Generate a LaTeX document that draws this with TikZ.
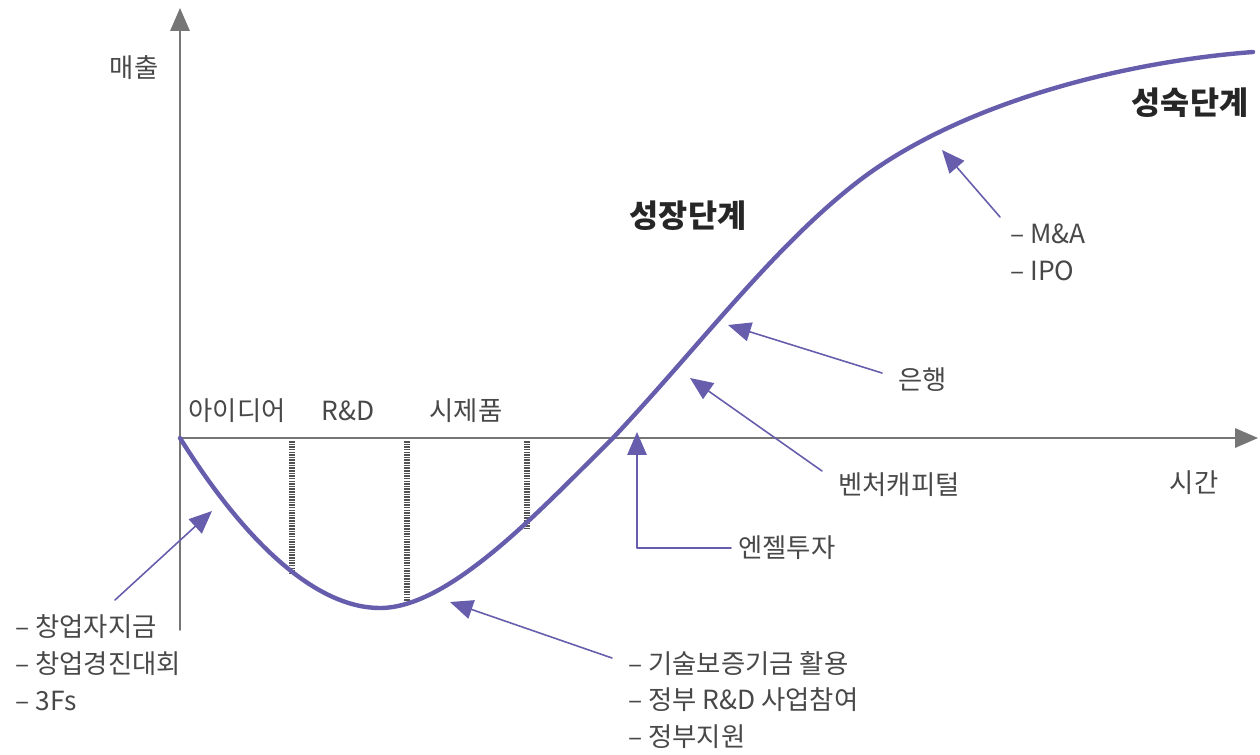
\documentclass[tikz,border=0pt]{standalone}
\usepackage{fontspec}
\setmainfont{Noto Sans CJK KR}
\usetikzlibrary{arrows.meta}
\definecolor{curvecol}{RGB}{102,94,172}
\definecolor{axiscol}{RGB}{118,118,118}
\definecolor{txtcol}{RGB}{72,72,72}
\definecolor{headcol}{RGB}{38,38,38}
\begin{document}
\begin{tikzpicture}[x=0.02cm,y=-0.02cm, line join=round, line cap=round,
	axis/.style={draw=axiscol,line width=1pt,-{Triangle[length=13pt,width=11pt]}},
	stage/.style={draw=black!68,line width=3pt,dash pattern=on 0.9pt off 0.6pt,line cap=butt},
	fund/.style={draw=curvecol,line width=0.9pt,-{Triangle[length=13pt,width=11pt,fill=curvecol]}},
	lbl/.style={text=txtcol,font=\fontsize{15}{21}\selectfont,inner sep=0pt,align=left},
	head/.style={text=headcol,font=\fontsize{18}{20}\selectfont\bfseries,inner sep=0pt}]
	\useasboundingbox (0,0) rectangle (1260,754);
	\path
	(180,438) coordinate (O)
	(180,630) coordinate (Yb)
	(180,8) coordinate (Yt)
	(1258,438) coordinate (Xr)
	(380,608) coordinate (Cmin)
	(613,438) coordinate (Ccross)
	(860,180) coordinate (Cbend)
	(1253,52) coordinate (Cend)
	(212,511) coordinate (tS)
	(115,600) coordinate (fS)
	(450,602) coordinate (tG)
	(612,658) coordinate (fG)
	(637,432) coordinate (tA)
	(690,378) coordinate (tV)
	(822,471) coordinate (fV)
	(728,325) coordinate (tB)
	(882,373) coordinate (fB)
	(942,150) coordinate (tM)
	(1000,217) coordinate (fM)
	;
	% axes
	\draw[axis] (Yb)--(Yt);
	\draw[axis] (O)--(Xr);
	\node[lbl] (sales) at (134,68) {매출};
	\node[lbl] (time) at (1194,483) {시간};
	% stages
	\foreach \x/\y in {292/574,407/604,527/528}
	\draw[stage] (\x,441)--(\x,\y);
	\foreach \n/\x/\t in {idea/237/아이디어,rnd/348/R\&D,proto/466/시제품}
	\node[lbl] (\n) at (\x,411) {\t};
	% sales curve
	\draw[curvecol,line width=2.5pt] (O) .. controls (250,550) and (320,608) .. (Cmin)
	.. controls (450,608) and (540,510) .. (Ccross)
	.. controls (703,342) and (775,245) .. (Cbend)
	.. controls (960,104) and (1120,62) .. (Cend);
	\node[head] (grow) at (688,216) {성장단계};
	\node[head] (mature) at (1190,103) {성숙단계};
	% funding
	\node[lbl,anchor=west] (seed) at (15,663) {– 창업자지금\\– 창업경진대회\\– 3Fs};
	\node[lbl,anchor=west] (gov) at (628,700) {– 기술보증기금 활용\\– 정부 R\&D 사업참여\\– 정부지원};
	\node[lbl,anchor=west] (angel) at (738,548) {엔젤투자};
	\node[lbl,anchor=west] (vc) at (838,485) {벤처캐피털};
	\node[lbl,anchor=west] (bank) at (898,380) {은행};
	\node[lbl,anchor=west] (exit) at (1010,252) {– M\&A\\– IPO};
	\draw[fund] (fS)--(tS);
	\draw[fund] (fG)--(tG);
	\draw[fund] ([xshift=-4pt]angel.west)-|(tA);
	\draw[fund] (fV)--(tV);
	\draw[fund] (fB)--(tB);
	\draw[fund] (fM)--(tM);
\end{tikzpicture}
\end{document}
